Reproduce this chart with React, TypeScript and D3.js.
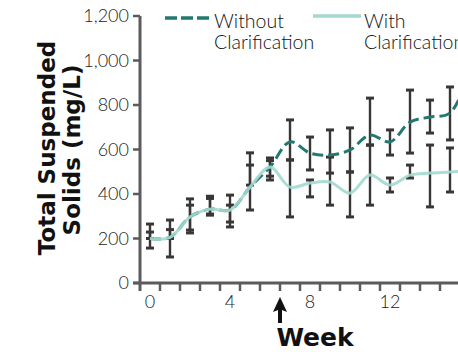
import React from 'react';
import * as d3 from 'd3';

// weeks and measured total suspended solids (mg/L)
const weeks = [0, 1, 2, 3, 4, 5, 6, 7, 8, 9, 10, 11, 12, 13, 14, 15, 16];
const withoutMean = [200, 205, 297, 332, 328, 431, 521, 634, 584, 575, 598, 665, 634, 723, 746, 764, 950];
const withMean = [200, 205, 297, 332, 328, 431, 521, 431, 449, 454, 404, 485, 440, 485, 494, 499, 505];
const withoutLow = [200, 200, 238, 305, 274, 440, 480, 553, 508, 494, 499, 620, 575, 584, 674, 643, 850];
const withoutHigh = [265, 283, 378, 390, 395, 585, 562, 733, 656, 688, 697, 831, 688, 867, 822, 881, 1050];
const withLow = [157, 117, 225, 310, 252, 328, 463, 297, 387, 350, 297, 350, 409, 472, 342, 409, 400];
const withHigh = [229, 240, 350, 380, 350, 530, 550, 553, 463, 566, 499, 620, 472, 530, 620, 607, 600];
const yTicks = [0, 200, 400, 600, 800, 1000, 1200];
const xLabels = [0, 4, 8, 12];
const minorTicks = d3.range(0.5, 16, 1);

const W = 458;
const H = 352;
const darkTeal = '#23796f';
const lightTeal = '#a3d9cf';
const barColor = '#3b3636';
const axisColor = '#5c5a5a';
const lightFont = 'Lato, "Open Sans", sans-serif';
const boldFont = '"DejaVu Sans", Verdana, sans-serif';

export default function App() {
  const x = d3.scaleLinear().domain([-0.5, 16]).range([140, 470]);
  const y = d3.scaleLinear().domain([0, 1200]).range([283, 16]);
  const fmt = d3.format(',');

  const line = (vals: number[]) =>
    d3.line<number>()
      .x((_, i) => x(weeks[i]))
      .y(d => y(d))
      .curve(d3.curveCatmullRom.alpha(0.5))(vals) || '';

  const errBar = (lo: number[], hi: number[], key: string) =>
    weeks.map((w, i) => (
      <g key={key + i}>
        <line x1={x(w)} x2={x(w)} y1={y(lo[i])} y2={y(hi[i])} stroke={barColor} strokeWidth={2.4} />
        <line x1={x(w) - 4} x2={x(w) + 4} y1={y(lo[i])} y2={y(lo[i])} stroke={barColor} strokeWidth={3} />
        <line x1={x(w) - 4} x2={x(w) + 4} y1={y(hi[i])} y2={y(hi[i])} stroke={barColor} strokeWidth={3} />
      </g>
    ));

  return (
    <svg width={W} height={H} style={{ position: 'absolute', left: 0, top: 0, background: '#fff' }}>
      <defs>
        <filter id="soft" x="-20%" y="-20%" width="140%" height="140%">
          <feGaussianBlur stdDeviation="0.5" />
        </filter>
      </defs>

      {/* axes */}
      <g filter="url(#soft)" stroke={axisColor}>
        <line x1={x(-0.5)} x2={x(-0.5)} y1={y(1200)} y2={y(0) + 8} strokeWidth={3} />
        <line x1={x(-0.5) - 7} x2={W} y1={y(0)} y2={y(0)} strokeWidth={3} />
        {yTicks.map(t => (
          <line key={t} x1={x(-0.5) - 7} x2={x(-0.5)} y1={y(t)} y2={y(t)} strokeWidth={2.5} />
        ))}
        {minorTicks.map(t => (
          <line key={t} x1={x(t)} x2={x(t)} y1={y(0)} y2={y(0) + 8} strokeWidth={2.5} />
        ))}
      </g>
      {yTicks.map(t => (
        <text key={t} x={129} y={y(t)} dy="0.35em" textAnchor="end" fontFamily={lightFont}
          fontWeight={300} fontSize={18} fill="#222">{fmt(t)}</text>
      ))}
      {xLabels.map(t => (
        <text key={t} x={x(t)} y={308} textAnchor="middle" fontFamily={lightFont}
          fontWeight={300} fontSize={18} fill="#222">{t}</text>
      ))}

      {/* error bars */}
      {errBar(withoutLow, withoutHigh, 'wo')}
      {errBar(withLow, withHigh, 'wi')}

      {/* series lines */}
      <path d={line(withoutMean)} fill="none" stroke={darkTeal} strokeWidth={3} strokeDasharray="11,5" />
      <path d={line(withMean)} fill="none" stroke={lightTeal} strokeWidth={3} opacity={0.9} />

      {/* legend */}
      <line x1={165} x2={212} y1={18} y2={18} stroke={darkTeal} strokeWidth={3.5} strokeDasharray="12,4" />
      <text x={214} y={28} fontFamily={lightFont} fontWeight={300} fontSize={19.5} fill="#111">
        <tspan x={214}>Without</tspan>
        <tspan x={214} dy={21}>Clarification</tspan>
      </text>
      <line x1={313} x2={361} y1={16} y2={16} stroke={lightTeal} strokeWidth={3.5} />
      <text x={364} y={28} fontFamily={lightFont} fontWeight={300} fontSize={19.5} fill="#111">
        <tspan x={364}>With</tspan>
        <tspan x={364} dy={21}>Clarification</tspan>
      </text>

      {/* treatment start arrow */}
      <path d={`M${x(6.5)},297 L${x(6.5) + 7},312 L${x(6.5) + 2},310 L${x(6.5) + 2},323 L${x(6.5) - 2},323 L${x(6.5) - 2},310 L${x(6.5) - 7},312 Z`}
        fill="#111" />

      {/* axis titles */}
      <text x={315} y={346} textAnchor="middle" fontFamily={boldFont} fontWeight="bold" fontSize={25} fill="#111">Week</text>
      <text transform={`translate(55,148) rotate(-90)`} textAnchor="middle" fontFamily={boldFont}
        fontWeight="bold" fontSize={23} fill="#111">Total Suspended</text>
      <text transform={`translate(80,150) rotate(-90)`} textAnchor="middle" fontFamily={boldFont}
        fontWeight="bold" fontSize={23} fill="#111">Solids (mg/L)</text>
    </svg>
  );
}
